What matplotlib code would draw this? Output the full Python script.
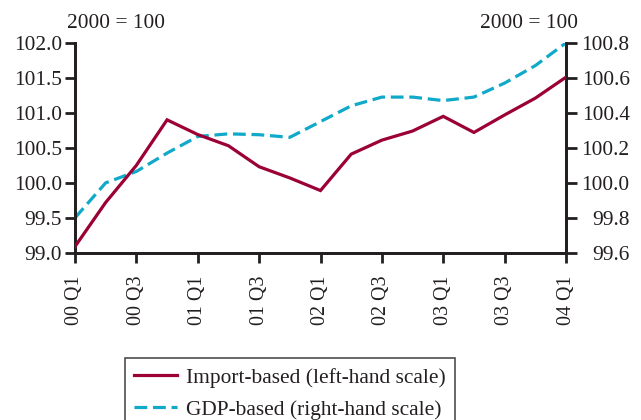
import matplotlib
matplotlib.use("Agg")
import matplotlib.pyplot as plt
import numpy as np

quarters = ["00 Q1", "00 Q2", "00 Q3", "00 Q4", "01 Q1", "01 Q2", "01 Q3", "01 Q4",
            "02 Q1", "02 Q2", "02 Q3", "02 Q4", "03 Q1", "03 Q2", "03 Q3", "03 Q4", "04 Q1"]
import_based = [99.09, 99.72, 100.25, 100.90, 100.69, 100.53, 100.23, 100.07,
                99.89, 100.41, 100.61, 100.74, 100.95, 100.72, 100.97, 101.21, 101.51]
gdp_based = [99.80, 100.00, 100.065, 100.17, 100.265, 100.28, 100.275, 100.26,
             100.35, 100.44, 100.49, 100.49, 100.47, 100.49, 100.57, 100.67, 100.80]
tick_labels = quarters[::2]
left_ticks = [99.0, 99.5, 100.0, 100.5, 101.0, 101.5, 102.0]
right_ticks = [99.6, 99.8, 100.0, 100.2, 100.4, 100.6, 100.8]

plt.rcParams['font.family'] = ['Liberation Serif', 'DejaVu Serif']
red = '#9B0036'
cyan = '#10A9C9'
axcol = '#231F20'
fs = 15.4

fig = plt.figure(figsize=(6.41, 4.2), dpi=100)
ax = fig.add_axes([0.117, 0.398, 0.766, 0.500])
ax2 = ax.twinx()

x = np.arange(len(quarters))
l1, = ax.plot(x, import_based, color=red, lw=2.3, solid_joinstyle='miter', zorder=3)
l2, = ax2.plot(x, gdp_based, color=cyan, lw=2.3, dashes=(4, 1.8), zorder=2)
ax.set_zorder(ax2.get_zorder() + 1)
ax.patch.set_visible(False)

ax.set_xlim(0, len(quarters) - 1)
ax.set_ylim(99.0, 102.0)
ax2.set_ylim(99.6, 100.8)
ax.set_yticks(left_ticks)
ax.set_yticklabels([f"{v:.1f}" for v in left_ticks])
ax2.set_yticks(right_ticks)
ax2.set_yticklabels([f"{v:.1f}" for v in right_ticks])
ax.set_xticks(x[::2])
ax.set_xticklabels(tick_labels, rotation=90, fontsize=14.4)

for a in (ax, ax2):
    a.spines['top'].set_visible(False)
    for s in ('left', 'right', 'bottom'):
        a.spines[s].set_linewidth(2.0)
        a.spines[s].set_color(axcol)
    a.tick_params(axis='y', which='major', direction='out', width=2.0, length=7.3,
                  color=axcol, labelsize=fs, labelcolor=axcol, pad=2.2)
ax.tick_params(axis='x', direction='out', width=2.0, length=7.3, color=axcol,
               labelcolor=axcol, pad=9.2)
ax2.tick_params(axis='y', length=7.8, pad=38)
for lab in ax2.get_yticklabels():
    lab.set_horizontalalignment('right')

fig.text(67 / 641, 1 - 28 / 420, "2000 = 100", ha='left', va='baseline', fontsize=fs, color=axcol)
fig.text(578 / 641, 1 - 28 / 420, "2000 = 100", ha='right', va='baseline', fontsize=fs, color=axcol)

leg = fig.legend([l1, l2], ["Import-based (left-hand scale)", "GDP-based (right-hand scale)"],
                 loc='upper center', bbox_to_anchor=(290 / 641, 1 - 358 / 420), fontsize=fs,
                 frameon=True, fancybox=False, edgecolor=axcol, handlelength=2.0,
                 borderpad=0.45, labelspacing=0.58, handletextpad=0.4, borderaxespad=0)
leg.get_frame().set_linewidth(1.2)
for t in leg.get_texts():
    t.set_color(axcol)

fig.savefig("out.png", dpi=100)
